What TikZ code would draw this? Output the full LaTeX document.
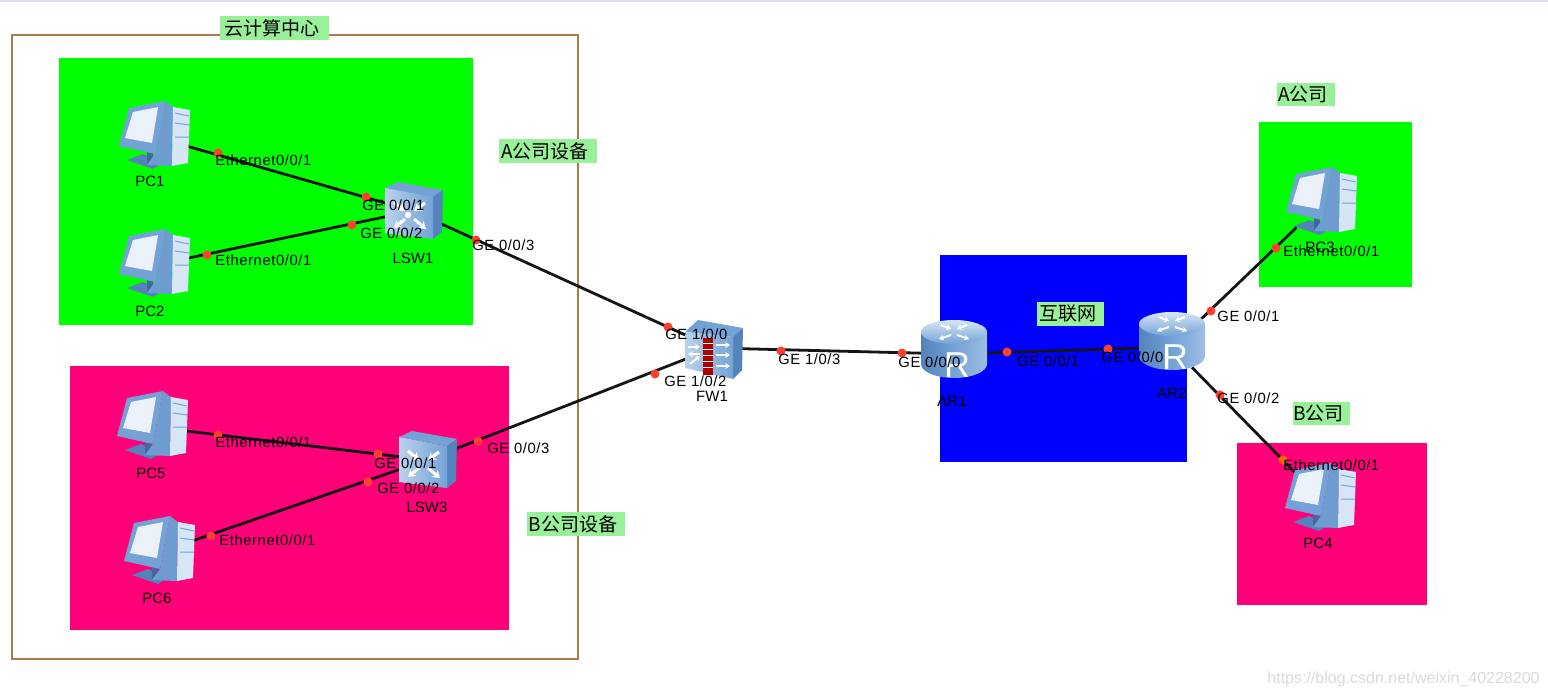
\documentclass[tikz,border=0pt]{standalone}
\usepackage{fontspec}
\setmainfont{Liberation Sans}
\newfontfamily\cjk{Noto Sans CJK SC}
\newfontfamily\portfont[LetterSpace=4]{Liberation Sans}
\usepackage{xcolor}
\usetikzlibrary{arrows.meta, positioning}
\definecolor{zonegreen}{RGB}{0,255,0}
\definecolor{zonepink}{RGB}{255,0,120}
\definecolor{zoneblue}{RGB}{0,0,255}
\definecolor{tagbg}{RGB}{152,240,152}
\definecolor{framebrown}{RGB}{168,124,80}
\definecolor{portred}{RGB}{255,64,48}
\definecolor{icondark}{RGB}{84,130,186}
\definecolor{iconmid}{RGB}{116,162,214}
\definecolor{iconlight}{RGB}{214,230,246}
\definecolor{iconedge}{RGB}{64,104,156}

\begin{document}
\begin{tikzpicture}[
    x=0.5pt, y=-0.5pt,
    zone/.style={rectangle, anchor=north west, inner sep=0pt},
    tag/.style={rectangle, fill=tagbg, inner sep=0pt, font=\cjk\fontsize{9.5}{9.5}\selectfont, execute at end node={\hspace{3pt}}},
    device/.style={rectangle, inner sep=0pt, minimum size=25pt},
    box/.style={rectangle, inner sep=0pt, minimum size=20pt},
    devname/.style={inner sep=0pt, font=\fontsize{7.5}{8}\selectfont},
    link/.style={line width=1.4pt, black!92},
    portdot/.style={circle, fill=portred, inner sep=0pt, minimum size=4.5pt},
    portname/.style={anchor=west, inner sep=0pt, font=\portfont\fontsize{7.4}{8}\selectfont},
    chevron/.style={white, line width=1pt, -{Stealth[length=2.4pt, width=3pt]}},
    bigchevron/.style={white, line width=1.5pt, -{Stealth[length=3.6pt, width=4.6pt]}},
    pcicon/.pic={
        \fill[icondark] (-28,23) -- (-12,17) -- (7,26) -- (-2,32) -- cycle;
        \fill[iconedge] (-8,14) rectangle (-2,27);
        \fill[iconmid!80!icondark] (10,-36) -- (18,-30) -- (17,29) -- (-8,28) -- (0,17) -- cycle;
        \fill[iconlight] (18,-30) -- (35,-27) -- (33,26) -- (17,29) -- cycle;
        \draw[iconmid, line width=.5pt] (20,-24) -- (34,-21) (20,-14) -- (34,-12) (20,0) -- (34,0);
        \fill[iconmid] (-36,9) -- (-26,-29) -- (10,-36) -- (0,17) -- cycle;
        \fill[white!85!iconmid] (-30,1) -- (-22,-25) -- (3,-30) -- (-3,6) -- cycle;
    },
    swicon/.pic={
        \fill[iconmid] (-28,-23) -- (-15,-29) -- (30,-21) -- (20,-14) -- cycle;
        \fill[icondark] (20,-14) -- (30,-21) -- (29,21) -- (20,28) -- cycle;
        \shade[left color=iconlight!70!iconmid, right color=iconmid] (-28,-23) -- (20,-14) -- (20,28) -- (-28,22) -- cycle;
        \draw[bigchevron] (-19,-9) -- (-8,0);
        \draw[bigchevron] (12,-8) -- (1,0);
        \draw[bigchevron] (-8,8) -- (-19,17);
        \draw[bigchevron] (1,8) -- (13,18);
    },
    fwicon/.pic={
        \fill[iconmid] (-29,-16) -- (-16,-28) -- (29,-20) -- (19,-11) -- cycle;
        \fill[icondark] (19,-11) -- (29,-20) -- (28,22) -- (19,31) -- cycle;
        \shade[left color=iconlight!70!iconmid, right color=iconmid] (-29,-16) -- (19,-11) -- (19,31) -- (-29,20) -- cycle;
        \fill[red!70!black] (-11,-10) rectangle (-1,27);
        \foreach \yy in {-5,1,7,13,19}
            \draw[white, line width=.4pt] (-11,\yy) -- (-1,\yy);
        \draw[chevron] (-26,-1) -- (-14,-1);
        \draw[chevron] (-14,6) -- (-26,6);
        \draw[chevron] (-24,16) -- (-14,8);
        \draw[chevron] (2,-3) -- (16,-3);
        \draw[chevron] (2,7) -- (16,7);
        \draw[chevron] (2,18) -- (16,18);
    },
    routericon/.pic={
        \shade[left color=icondark, right color=iconmid!70!white, middle color=iconmid] (-33,-18) -- (-33,14) arc[start angle=180, end angle=0, x radius=33, y radius=14] -- (33,-18) -- cycle;
        \shade[top color=iconlight, bottom color=iconmid] (0,-18) ellipse[x radius=33, y radius=12];
        \draw[chevron] (-13,-25) -- (-3,-21);
        \draw[chevron] (13,-25) -- (3,-21);
        \draw[chevron] (-3,-15) -- (-15,-11);
        \draw[chevron] (3,-15) -- (15,-11);
        \node[text=white, inner sep=0pt, font=\fontsize{18}{18}\selectfont] (-letter) at (3,15) {R};
    }
]
    \useasboundingbox (0,0) rectangle (1548,697);
    \fill[white] (0,0) rectangle (1548,697);
    \fill[blue!30!gray!20] (0,0) rectangle (1548,2);

    % outer frame
    \node[zone, draw=framebrown, line width=1pt, minimum width=283pt, minimum height=312pt] (cloud) at (10.5,33.5) {};

    % colour zones
    \node[zone, fill=zonegreen, minimum width=207pt, minimum height=133.5pt] (zoneA) at (59,58) {};
    \node[zone, fill=zonepink, minimum width=219.5pt, minimum height=132pt] (zoneB) at (70,366) {};
    \node[zone, fill=zoneblue, minimum width=123.5pt, minimum height=103.5pt] (zoneNet) at (940,255) {};
    \node[zone, fill=zonegreen, minimum width=76.5pt, minimum height=82.5pt] (zoneA2) at (1259,122) {};
    \node[zone, fill=zonepink, minimum width=95pt, minimum height=81pt] (zoneB2) at (1237,443) {};

    % tags
    \node[tag, minimum width=54.5pt, minimum height=12pt] (cloudtag) at (274.5,28) {云计算中心};
    \node[tag, minimum width=49pt, minimum height=12pt] (atag) at (548,151) {A公司设备};
    \node[tag, minimum width=49pt, minimum height=12pt] (btag) at (576,524) {B公司设备};
    \node[tag, minimum width=33.5pt, minimum height=12pt] (nettag) at (1070.5,314) {互联网};
    \node[tag, minimum width=29pt, minimum height=11.5pt] (a2tag) at (1306,94.5) {A公司};
    \node[tag, minimum width=28.5pt, minimum height=11.5pt] (b2tag) at (1321.5,413.5) {B公司};

    % devices
    \node[device] (pc1) at (155,137) {};
    \node[device] (pc2) at (155,265) {};
    \node[device] (pc5) at (153,427) {};
    \node[device] (pc6) at (160,552) {};
    \node[device] (pc3) at (1322,203) {};
    \node[device] (pc4) at (1321,499) {};
    \node[box] (lsw1) at (413,211) {};
    \node[box] (lsw3) at (427,460) {};
    \node[box] (fw1) at (714,348) {};
    \node[box] (ar1) at (955,354) {};
    \node[box] (ar2) at (1172,347) {};

    % links
    \draw[link] (pc1) -- (lsw1);
    \draw[link] (pc2) -- (lsw1);
    \draw[link] (pc5) -- (lsw3);
    \draw[link] (pc6) -- (lsw3);
    \draw[link] (lsw1) -- (fw1);
    \draw[link] (lsw3) -- (fw1);
    \draw[link] (fw1) -- (ar1);
    \draw[link] (ar1) -- (ar2);
    \draw[link] (ar2) -- (pc3);
    \draw[link] (ar2) -- (pc4);

    % icons
    \pic at (pc1) {pcicon};
    \pic at (pc2) {pcicon};
    \pic at (pc5) {pcicon};
    \pic at (pc6) {pcicon};
    \pic at (pc3) {pcicon};
    \pic at (pc4) {pcicon};
    \pic at (lsw1) {swicon};
    \pic at (lsw3) {swicon};
    \fill[white] (408,215) circle (3.2);
    \pic at (fw1) {fwicon};
    \pic (ar1icon) at (954,350) {routericon};
    \pic (ar2icon) at (1172,342) {routericon};

    % device names
    \node[devname, below=6.5pt of pc1, xshift=-2.5pt] (pc1name) {PC1};
    \node[devname, below=7.5pt of pc2, xshift=-2.5pt] (pc2name) {PC2};
    \node[devname, below=7.5pt of pc5, xshift=-1pt] (pc5name) {PC5};
    \node[devname, below=7.5pt of pc6, xshift=-1.5pt] (pc6name) {PC6};
    \node[devname, below=6.5pt of pc3, xshift=-1pt] (pc3name) {PC3};
    \node[devname, below=6.5pt of pc4, xshift=-1.5pt] (pc4name) {PC4};
    \node[devname, below=10.5pt of lsw1] (lsw1name) {LSW1};
    \node[devname, below=10.5pt of lsw3] (lsw3name) {LSW3};
    \node[devname, below=11pt of fw1, xshift=-1pt] (fw1name) {FW1};
    \node[devname, below=10.5pt of ar1, xshift=-1.5pt] (ar1name) {AR1};
    \node[devname, below=10pt of ar2] (ar2name) {AR2};

    % ports
    \node[portdot] (p1) at (218,153) {};
    \node[portname] (p1name) at (215,160) {Ethernet0/0/1};
    \node[portdot] (p2) at (366,197) {};
    \node[portname] (p2name) at (362,205) {GE 0/0/1};
    \node[portdot] (p3) at (207,255) {};
    \node[portname] (p3name) at (215,260) {Ethernet0/0/1};
    \node[portdot] (p4) at (352,225) {};
    \node[portname] (p4name) at (360,233) {GE 0/0/2};
    \node[portdot] (p5) at (476,240) {};
    \node[portname] (p5name) at (472,245) {GE 0/0/3};
    \node[portdot] (p6) at (668,327) {};
    \node[portname] (p6name) at (665,334) {GE 1/0/0};
    \node[portdot] (p7) at (655,374) {};
    \node[portname] (p7name) at (664,381) {GE 1/0/2};
    \node[portdot] (p8) at (478,441) {};
    \node[portname] (p8name) at (487,448) {GE 0/0/3};
    \node[portdot] (p9) at (218,435) {};
    \node[portname] (p9name) at (215,442) {Ethernet0/0/1};
    \node[portdot] (p10) at (378,454) {};
    \node[portname] (p10name) at (374,463) {GE 0/0/1};
    \node[portdot] (p11) at (368,482) {};
    \node[portname] (p11name) at (377,488) {GE 0/0/2};
    \node[portdot] (p12) at (211,536) {};
    \node[portname] (p12name) at (219,540) {Ethernet0/0/1};
    \node[portdot] (p13) at (781,351) {};
    \node[portname] (p13name) at (778,359) {GE 1/0/3};
    \node[portdot] (p14) at (902,353) {};
    \node[portname] (p14name) at (898,362) {GE 0/0/0};
    \node[portdot] (p15) at (1007,352) {};
    \node[portname] (p15name) at (1017,361) {GE 0/0/1};
    \node[portdot] (p16) at (1108,349) {};
    \node[portname] (p16name) at (1101,357) {GE 0/0/0};
    \node[portdot] (p17) at (1211,311) {};
    \node[portname] (p17name) at (1217,316) {GE 0/0/1};
    \node[portdot] (p18) at (1220,395) {};
    \node[portname] (p18name) at (1217,398) {GE 0/0/2};
    \node[portdot] (p19) at (1276,248) {};
    \node[portname] (p19name) at (1283,251) {Ethernet0/0/1};
    \node[portdot, fill=orange!80!red] (p20) at (1283,460) {};
    \node[portname] (p20name) at (1283,465) {Ethernet0/0/1};

    % watermark
    \node[anchor=west, inner sep=0pt, text=black!14, font=\fontsize{8}{8}\selectfont] (mark) at (1267,679) {https://blog.csdn.net/weixin\_40228200};
\end{tikzpicture}
\end{document}
